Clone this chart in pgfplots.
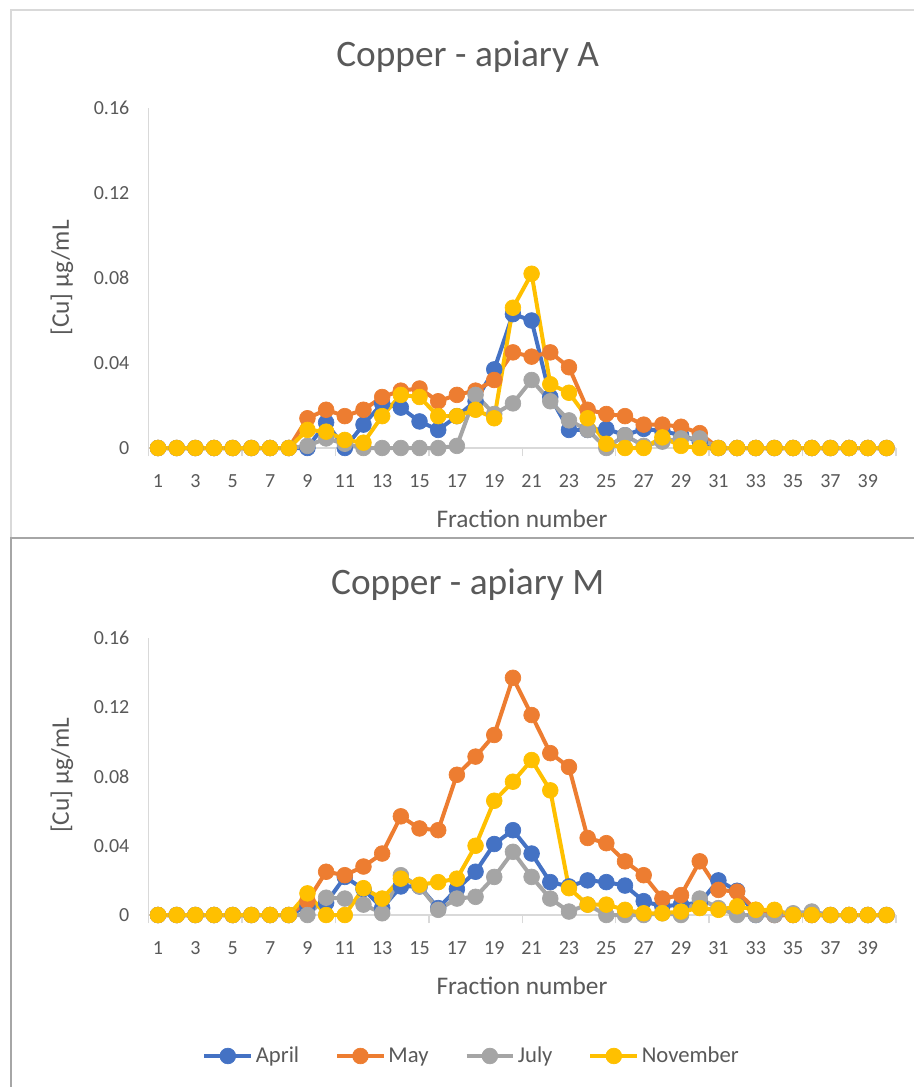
\documentclass[border=0pt]{standalone}
\usepackage{fontspec}
\setmainfont{Carlito}
\usepackage{pgfplots}
\usepackage{pgfplotstable}
\pgfplotsset{compat=1.18}
\definecolor{cApr}{HTML}{4472C4}
\definecolor{cMay}{HTML}{ED7D31}
\definecolor{cJul}{HTML}{A5A5A5}
\definecolor{cNov}{HTML}{FFC000}
\definecolor{txt}{HTML}{595959}
\definecolor{axl}{HTML}{D9D9D9}
\definecolor{bdr}{HTML}{A6A6A6}

\pgfplotstableread{
x apr may jul nov
1 0 0 0 0
2 0 0 0 0
3 0 0 0 0
4 0 0 0 0
5 0 0 0 0
6 0 0 0 0
7 0 0 0 0
8 0 0 0 0
9 0 0.014 0.001 0.0085
10 0.012 0.018 0.0045 0.0077
11 0 0.015 0.002 0.0038
12 0.011 0.018 0 0.0025
13 0.021 0.024 0 0.015
14 0.019 0.027 0 0.025
15 0.0125 0.028 0 0.024
16 0.0085 0.022 0 0.015
17 0.015 0.025 0.001 0.015
18 0.022 0.027 0.025 0.018
19 0.037 0.032 0.016 0.014
20 0.063 0.045 0.021 0.066
21 0.060 0.043 0.032 0.082
22 0.024 0.045 0.022 0.030
23 0.0085 0.038 0.013 0.026
24 0.0085 0.018 0.0085 0.014
25 0.009 0.016 0 0.002
26 0.006 0.015 0.006 0
27 0.009 0.011 0.001 0
28 0.008 0.011 0.003 0.005
29 0.006 0.010 0.0045 0.001
30 0.003 0.007 0.0045 0
31 0 0 0 0
32 0 0 0 0
33 0 0 0 0
34 0 0 0 0
35 0 0 0 0
36 0 0 0 0
37 0 0 0 0
38 0 0 0 0
39 0 0 0 0
40 0 0 0 0
}\tabA

\pgfplotstableread{
x apr may jul nov
1 0 0 0 0
2 0 0 0 0
3 0 0 0 0
4 0 0 0 0
5 0 0 0 0
6 0 0 0 0
7 0 0 0 0
8 0 0 0 0
9 0.005 0.008 0 0.0125
10 0.007 0.025 0.010 0
11 0.022 0.023 0.0095 0
12 0.015 0.028 0.006 0.0155
13 0.004 0.0355 0.001 0.0095
14 0.0165 0.057 0.023 0.021
15 0.0165 0.050 0.0165 0.0175
16 0.004 0.049 0.003 0.019
17 0.015 0.081 0.0095 0.021
18 0.025 0.0915 0.0105 0.040
19 0.041 0.104 0.022 0.066
20 0.049 0.137 0.0365 0.077
21 0.0355 0.1155 0.022 0.0895
22 0.019 0.0935 0.0095 0.072
23 0.0165 0.0855 0.002 0.0155
24 0.020 0.0445 0.006 0.006
25 0.019 0.0415 0 0.006
26 0.017 0.031 0 0.003
27 0.008 0.023 0 0.001
28 0.005 0.0095 0.001 0.001
29 0.006 0.0115 0 0.002
30 0.007 0.031 0.0095 0.004
31 0.020 0.0145 0.004 0.003
32 0.014 0.0135 0 0.005
33 0 0.003 0 0.003
34 0 0 0 0.003
35 0 0 0.001 0
36 0 0 0.002 0
37 0 0 0 0
38 0 0 0 0
39 0 0 0 0
40 0 0 0 0
}\tabM

\pgfplotsset{cuaxis/.style={
  scale only axis, width=560.4pt,
  xmin=0.5, xmax=40.5, ymin=0, ymax=0.16,
  axis x line=bottom, axis y line=left,
  axis line style={-, axl, line width=1pt},
  xtick={1,3,...,39},
  ytick={0,0.04,0.08,0.12,0.16}, yticklabels={0,0.04,0.08,0.12,0.16},
  major tick length=0pt,
  extra x ticks={0.5,5.5,...,40.5}, extra x tick labels={},
  extra x tick style={major tick length=6pt, tick align=outside, tick style={axl, line width=1pt}},
  ticklabel style={font=\fontsize{15}{17}\selectfont, color=txt},
  xticklabel style={yshift=-16.5pt},
  yticklabel style={xshift=-11pt},
  /pgf/number format/assume math mode=true,
  xlabel={Fraction number}, ylabel={[Cu] μg/mL},
  label style={font=\fontsize{19}{22}\selectfont, color=txt},
  title style={anchor=center, font=\fontsize{28}{32}\selectfont, color=txt},
  clip=false,
  every axis plot/.append style={line width=3pt, mark=*, mark size=5.9pt},
  legend image code/.code={\draw[mark repeat=2,mark phase=2] plot coordinates {(0pt,0pt)(17.5pt,0pt)(35pt,0pt)};},
}}

\begin{document}
\begin{tikzpicture}
\draw[color=axl, line width=1pt] (8.25pt,-7.5pt) rectangle (700pt,-425.25pt);

\begin{axis}[cuaxis, height=255pt, at={(111.5pt,-336pt)}, anchor=south west,
  title={Copper - apiary A},
  title style={at={(axis description cs:0.427,1.127)}},
  xlabel style={at={(axis description cs:0.4996,-0.209)}, anchor=center},
  ylabel style={at={(axis description cs:-0.116,0.5)}, anchor=center},
]
\addplot[color=cApr, mark options={fill=cApr, line width=0.5pt}] table[x=x, y=apr] {\tabA};
\addplot[color=cMay, mark options={fill=cMay, line width=0.5pt}] table[x=x, y=may] {\tabA};
\addplot[color=cJul, mark options={fill=cJul, line width=0.5pt}] table[x=x, y=jul] {\tabA};
\addplot[color=cNov, mark options={fill=cNov, line width=0.5pt}] table[x=x, y=nov] {\tabA};
\end{axis}

\fill[white] (8.25pt,-403.5pt) rectangle (700pt,-830pt);
\draw[color=bdr, line width=1pt] (700pt,-403.5pt) -- (8.25pt,-403.5pt) -- (8.25pt,-830pt);

\begin{axis}[cuaxis, height=207.75pt, at={(111.5pt,-686.25pt)}, anchor=south west,
  title={Copper - apiary M},
  title style={at={(axis description cs:0.427,1.163)}},
  xlabel style={at={(axis description cs:0.4996,-0.256)}, anchor=center},
  ylabel style={at={(axis description cs:-0.116,0.505)}, anchor=center},
  legend style={at={(axis description cs:0.4327,-0.509)}, anchor=center, draw=none,
    legend columns=4, font=\fontsize{17}{20}\selectfont, text=txt,
    /tikz/every even column/.append style={column sep=25pt},
    /tikz/every odd column/.append style={column sep=0pt}},
]
\addplot[color=cApr, mark options={fill=cApr, line width=0.5pt}] table[x=x, y=apr] {\tabM};
\addlegendentry{April}
\addplot[color=cMay, mark options={fill=cMay, line width=0.5pt}] table[x=x, y=may] {\tabM};
\addlegendentry{May}
\addplot[color=cJul, mark options={fill=cJul, line width=0.5pt}] table[x=x, y=jul] {\tabM};
\addlegendentry{July}
\addplot[color=cNov, mark options={fill=cNov, line width=0.5pt}] table[x=x, y=nov] {\tabM};
\addlegendentry{November}
\end{axis}

\pgfresetboundingbox
\useasboundingbox (0pt,0pt) rectangle (684.75pt,-815.25pt);
\end{tikzpicture}
\end{document}
